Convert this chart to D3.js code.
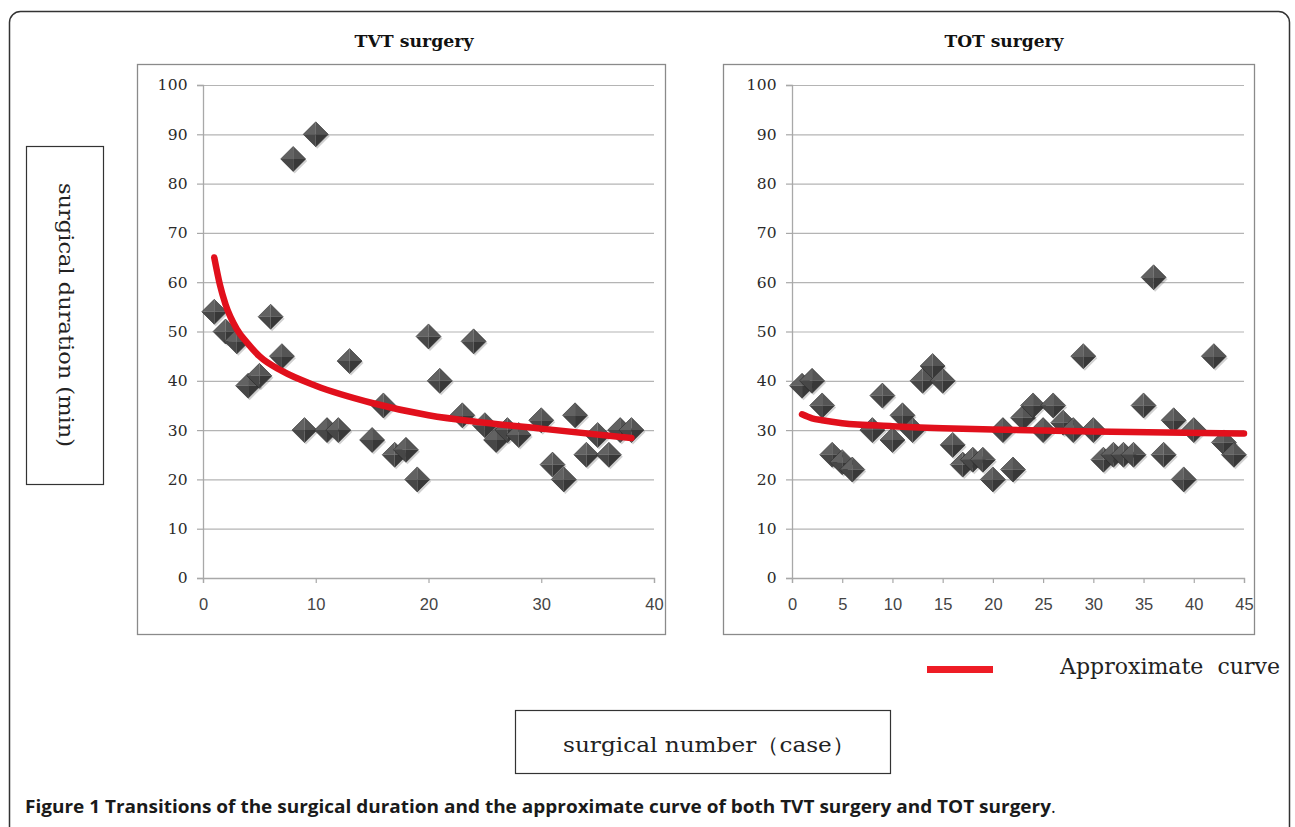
<!DOCTYPE html>
<html>
<head>
<meta charset="utf-8">
<script src="https://cdn.jsdelivr.net/npm/d3@7"></script>
<style>
  html, body { margin: 0; padding: 0; background: #fff; }
  svg { display: block; }
</style>
</head>
<body>
<script>
// ---------- data ----------
const tvtCases = [1,2,3,4,5,6,7,8,9,10,11,12,13,15,16,17,18,19,20,21,23,24,25,26,27,28,30,31,32,33,34,35,36,37,38];
const tvtMinutes = [54,50,48,39,41,53,45,85,30,90,30,30,44,28,35,25,26,20,49,40,33,48,31,28,30,29,32,23,20,33,25,29,25,30,30];

const totCases = [1,2,3,4,5,6,8,9,10,11,12,13,14,15,16,17,18,19,20,21,22,23,24,25,26,27,28,29,30,31,32,33,34,35,36,37,38,39,40,42,43,44];
const totMinutes = [39,40,35,25,23.5,22,30,37,28,33,30,40,43,40,27,23,24,24,20,30,22,32.5,35,30,35,31.5,30,45,30,24,25,25,25,35,61,25,32,20,30,45,27.5,25];

// approximate (trend) curves
const tvtCurveX = [1,1.5,2,3,4,5,7,10,15,20,25,30,38];
const tvtCurveY = [65,59.5,55.5,50.5,47.5,45,42,39,35.5,33,31.5,30.3,28.4];
const totCurveX = [1,2,3,5,10,15,20,30,45];
const totCurveY = [33.2,32.4,32,31.4,30.8,30.4,30.1,29.7,29.3];

const yTicks = [0,10,20,30,40,50,60,70,80,90,100];
const tvtXTicks = [0,10,20,30,40];
const totXTicks = [0,5,10,15,20,25,30,35,40,45];

const panelTitles = ["TVT surgery", "TOT surgery"];
const yAxisTitle = "surgical duration (min)";
const xAxisTitle = "surgical number（case）";
const legendLabel = "Approximate  curve";
const captionBold = "Figure 1 Transitions of the surgical duration and the approximate curve of both TVT surgery and TOT surgery";

// ---------- drawing ----------
const W = 1295, H = 827;
const svg = d3.select("body").append("svg").attr("width", W).attr("height", H);

const serif = "'DejaVu Serif', 'Liberation Serif', serif";
const sans = "'Liberation Sans', Arial, sans-serif";

// outer rounded frame
svg.append("rect").attr("x", 9.5).attr("y", 11.5).attr("width", 1280).attr("height", 830)
  .attr("rx", 11).attr("fill", "none").attr("stroke", "#333").attr("stroke-width", 1.5);

const y = d3.scaleLinear().domain([0, 100]).range([578, 85]);

const panels = [
  { frame: [137.5, 64.5, 528, 570], x: d3.scaleLinear().domain([0, 40]).range([203, 654]),
    xt: tvtXTicks, cx: tvtCases, cy: tvtMinutes, tx: tvtCurveX, ty: tvtCurveY, title: panelTitles[0], titleX: 414 },
  { frame: [723.5, 64.5, 531, 570], x: d3.scaleLinear().domain([0, 45]).range([792, 1244]),
    xt: totXTicks, cx: totCases, cy: totMinutes, tx: totCurveX, ty: totCurveY, title: panelTitles[1], titleX: 1004 }
];

panels.forEach(p => {
  const g = svg.append("g");
  g.append("rect").attr("x", p.frame[0]).attr("y", p.frame[1]).attr("width", p.frame[2]).attr("height", p.frame[3])
    .attr("fill", "#fff").attr("stroke", "#8a8a8a").attr("stroke-width", 1.3);

  const x = p.x;
  const x0 = x.range()[0], x1 = x.range()[1];

  // gridlines
  g.append("g").attr("transform", `translate(${x0},0)`)
    .call(d3.axisLeft(y).tickValues(yTicks.slice(1)).tickSize(-(x1 - x0)).tickFormat(""))
    .call(a => a.select(".domain").remove())
    .call(a => a.selectAll("line").attr("stroke", "#b4b4b4").attr("stroke-width", 1.2));

  // y axis
  g.append("g").attr("transform", `translate(${x0},0)`)
    .call(d3.axisLeft(y).tickValues(yTicks).tickSize(6).tickPadding(9))
    .call(a => a.select(".domain").attr("stroke", "#a8a8a8").attr("stroke-width", 1.3))
    .call(a => a.selectAll("line").attr("stroke", "#a8a8a8").attr("stroke-width", 1.2))
    .call(a => a.selectAll("text").attr("font-family", serif).attr("font-size", 15.5).attr("fill", "#2a2a2a")
      .attr("letter-spacing", 0.3));

  // x axis
  g.append("g").attr("transform", `translate(0,${y(0)})`)
    .call(d3.axisBottom(x).tickValues(p.xt).tickSize(5).tickPadding(15))
    .call(a => a.select(".domain").attr("stroke", "#a8a8a8").attr("stroke-width", 1.3))
    .call(a => a.selectAll("line").attr("stroke", "#a8a8a8").attr("stroke-width", 1.2))
    .call(a => a.selectAll("text").attr("font-family", sans).attr("font-size", 16.5).attr("fill", "#444"));

  // title
  g.append("text").attr("x", p.titleX).attr("y", 47).attr("text-anchor", "middle")
    .attr("font-family", serif).attr("font-weight", "bold").attr("font-size", 17).attr("fill", "#111")
    .attr("textLength", 119).attr("lengthAdjust", "spacingAndGlyphs")
    .text(p.title);

  // points
  const s = 12.5;
  const pts = g.append("g").selectAll("g").data(p.cx.map((c, i) => ({ c, v: p.cy[i] })))
    .join("g").attr("transform", d => `translate(${x(d.c)},${y(d.v)})`);
  pts.append("path").attr("d", `M${-s},0L0,${-s}L${s},0L0,${s}Z`).attr("transform", "translate(1.5,2)")
    .attr("fill", "rgba(0,0,0,0.18)");
  pts.append("path").attr("d", `M${-s},0L0,${-s}L0,0Z`).attr("fill", "#626262");
  pts.append("path").attr("d", `M0,${-s}L${s},0L0,0Z`).attr("fill", "#555");
  pts.append("path").attr("d", `M${s},0L0,${s}L0,0Z`).attr("fill", "#383838");
  pts.append("path").attr("d", `M0,${s}L${-s},0L0,0Z`).attr("fill", "#474747");
  pts.append("path").attr("d", `M${-s},0L0,${-s}L${s},0L0,${s}Z`).attr("fill", "none")
    .attr("stroke", "#2c2c2c").attr("stroke-width", 0.6);

  // approximate curve
  const line = d3.line().x(d => x(d[0])).y(d => y(d[1])).curve(d3.curveMonotoneX);
  g.append("path").datum(p.tx.map((v, i) => [v, p.ty[i]])).attr("d", line)
    .attr("fill", "none").attr("stroke", "#e1101c").attr("stroke-width", 6.5).attr("stroke-linecap", "round");
});

// y axis title box
svg.append("rect").attr("x", 26.5).attr("y", 146.5).attr("width", 77).attr("height", 338)
  .attr("fill", "#fff").attr("stroke", "#333").attr("stroke-width", 1.2);
svg.append("text").attr("transform", "translate(59,315) rotate(90)").attr("text-anchor", "middle")
  .attr("font-family", serif).attr("font-size", 21).attr("fill", "#222")
  .attr("textLength", 264).attr("lengthAdjust", "spacingAndGlyphs").text(yAxisTitle);

// x axis title box
svg.append("rect").attr("x", 515.5).attr("y", 710.5).attr("width", 375).attr("height", 63)
  .attr("fill", "#fff").attr("stroke", "#333").attr("stroke-width", 1.2);
svg.append("text").attr("x", 709).attr("y", 752).attr("text-anchor", "middle")
  .attr("font-family", serif).attr("font-size", 21).attr("fill", "#222")
  .attr("textLength", 292).attr("lengthAdjust", "spacingAndGlyphs").text(xAxisTitle);

// legend
svg.append("line").attr("x1", 927).attr("x2", 993).attr("y1", 669.5).attr("y2", 669.5)
  .attr("stroke", "#ee1c25").attr("stroke-width", 7);
svg.append("text").attr("x", 1060).attr("y", 674).attr("font-family", serif).attr("font-size", 22)
  .attr("fill", "#222").style("white-space", "pre")
  .attr("textLength", 220).attr("lengthAdjust", "spacingAndGlyphs").text(legendLabel);

// caption
const cap = svg.append("text").attr("x", 25).attr("y", 813)
  .attr("font-family", "'Liberation Sans Narrow', 'Open Sans', sans-serif")
  .attr("font-size", 18).attr("fill", "#1a1a1a");
cap.append("tspan").attr("font-weight", "bold").attr("textLength", 1026).attr("lengthAdjust", "spacingAndGlyphs").text(captionBold);
cap.append("tspan").attr("font-weight", "normal").text(".");
</script>
</body>
</html>
